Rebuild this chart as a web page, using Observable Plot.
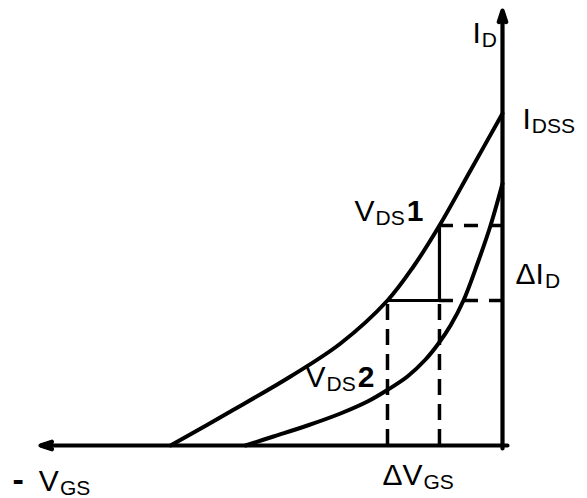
<!DOCTYPE html>
<html>
<head>
<meta charset="utf-8">
<script src="https://cdn.jsdelivr.net/npm/d3@7"></script>
<script src="https://cdn.jsdelivr.net/npm/@observablehq/plot@0.6"></script>
<style>
  html, body { margin: 0; padding: 0; background: #fff; }
  #chart svg { display: block; }
</style>
</head>
<body>
<div id="chart"></div>
<script>
// ---- Data (arbitrary units: VGS in volts, ID in mA) ----
// Transfer curve for VDS1
const vds1Vgs = [-4.024, -3.297, -2.570, -1.964, -1.394, -1.079, -0.764, -0.388, 0];
const vds1Id  = [0, 1.030, 2.091, 3.091, 4.394, 5.424, 6.667, 8.333, 10.061];
// Transfer curve for VDS2
const vds2Vgs = [-3.115, -2.776, -2.364, -1.964, -1.636, -1.406, -1.152, -0.933, -0.776, -0.630, -0.473, -0.303, -0.145, 0];
const vds2Id  = [0, 0.273, 0.606, 0.970, 1.333, 1.667, 2.091, 2.606, 3.091, 3.636, 4.394, 5.515, 6.667, 7.939];
// ΔVGS construction points and ΔID levels
const dVgs = [-1.394, -0.764];
const idLevels = [4.394, 6.667];
// Axis extents
const axisVgsMin = -5.6, axisVgsMax = 0.06;
const axisIdMin = -0.09, axisIdMax = 13.18;
// Labels
const labelPrefix = ["", "", "", "", "", "-", ""];
const labelMain   = ["I", "I", "ΔI", "V", "V", "V", "ΔV"];
const labelSub    = ["D", "DSS", "D", "DS", "DS", "GS", "GS"];
const labelTail   = ["", "", "", "1", "2", "", ""];
const labelVgs    = [-0.364, 0.242, 0.158, -1.794, -2.388, -5.939, -1.455];
const labelId     = [12.182, 9.606, 4.909, 6.818, 1.758, -1.364, -1.182];

// ---- Build tables ----
const curve1 = vds1Vgs.map((v, i) => ({v, id: vds1Id[i]}));
const curve2 = vds2Vgs.map((v, i) => ({v, id: vds2Id[i]}));
const labels = labelMain.map((m, i) => ({v: labelVgs[i], id: labelId[i], i}));

const dashedV = [
  {v: dVgs[0], y1: 0, y2: idLevels[0]},
  {v: dVgs[1], y1: 0, y2: idLevels[0]}
];
const solidV = [{v: dVgs[1], y1: idLevels[0], y2: idLevels[1]}];
const solidH = [{id: idLevels[0], x1: dVgs[0], x2: dVgs[1]}];
const dashedH = [
  {id: idLevels[0], x1: dVgs[1], x2: axisVgsMax},
  {id: idLevels[1], x1: dVgs[1], x2: 0}
];
const axes = [
  {x1: axisVgsMax, y1: 0, x2: axisVgsMin, y2: 0},
  {x1: 0, y1: axisIdMin, x2: 0, y2: axisIdMax}
];

const W = 587, H = 498;
const arrowOpts = {x1: "x1", y1: "y1", x2: "x2", y2: "y2", stroke: "#000"};
const chart = Plot.plot({
  width: W,
  height: H,
  margin: 0,
  x: {domain: [-502 / 82.5, 85 / 82.5], axis: null},
  y: {domain: [-53 / 33, 445 / 33], axis: null},
  style: {background: "#fff", fontFamily: "'Liberation Sans', Arial, sans-serif"},
  marks: [
    Plot.ruleX(dashedV, {x: "v", y1: "y1", y2: "y2", stroke: "#000", strokeWidth: 3.5, strokeDasharray: "16,9"}),
    Plot.ruleY(dashedH, {y: "id", x1: "x1", x2: "x2", stroke: "#000", strokeWidth: 3.5, strokeDasharray: "14,11"}),
    Plot.ruleX(solidV, {x: "v", y1: "y1", y2: "y2", stroke: "#000", strokeWidth: 3.2}),
    Plot.ruleY(solidH, {y: "id", x1: "x1", x2: "x2", stroke: "#000", strokeWidth: 3.2}),
    Plot.line(curve1, {x: "v", y: "id", curve: "catmull-rom", stroke: "#000", strokeWidth: 4}),
    Plot.line(curve2, {x: "v", y: "id", curve: "catmull-rom", stroke: "#000", strokeWidth: 4}),
    Plot.arrow(axes, {...arrowOpts, strokeWidth: 4.2, headLength: 4.3, headAngle: 36}),
    Plot.arrow(axes, {...arrowOpts, strokeWidth: 3, headLength: 4, headAngle: 26}),
    Plot.arrow(axes, {...arrowOpts, strokeWidth: 3, headLength: 2, headAngle: 40}),
    Plot.text(labels, {x: "v", y: "id", text: d => labelMain[d.i], textAnchor: "start", fontSize: 30, fill: "#000"})
  ]
});

// Rich-text labels: subscripts and bold suffixes
d3.select(chart).selectAll('g[aria-label="text"] text').each(function(_, k) {
  const t = d3.select(this);
  t.attr("y", null).text(null);
  if (labelPrefix[k]) {
    t.append("tspan").attr("font-weight", "bold").attr("font-size", 34).text(labelPrefix[k]);
    t.append("tspan").attr("dx", 15).text(labelMain[k]);
  } else {
    t.append("tspan").text(labelMain[k]);
  }
  t.append("tspan").attr("font-size", 21).attr("dx", 1).attr("dy", 4).text(labelSub[k]);
  if (labelTail[k]) {
    t.append("tspan").attr("font-weight", "bold").attr("dx", 2).attr("dy", -4).text(labelTail[k]);
  }
});

document.getElementById("chart").appendChild(chart);
</script>
</body>
</html>
